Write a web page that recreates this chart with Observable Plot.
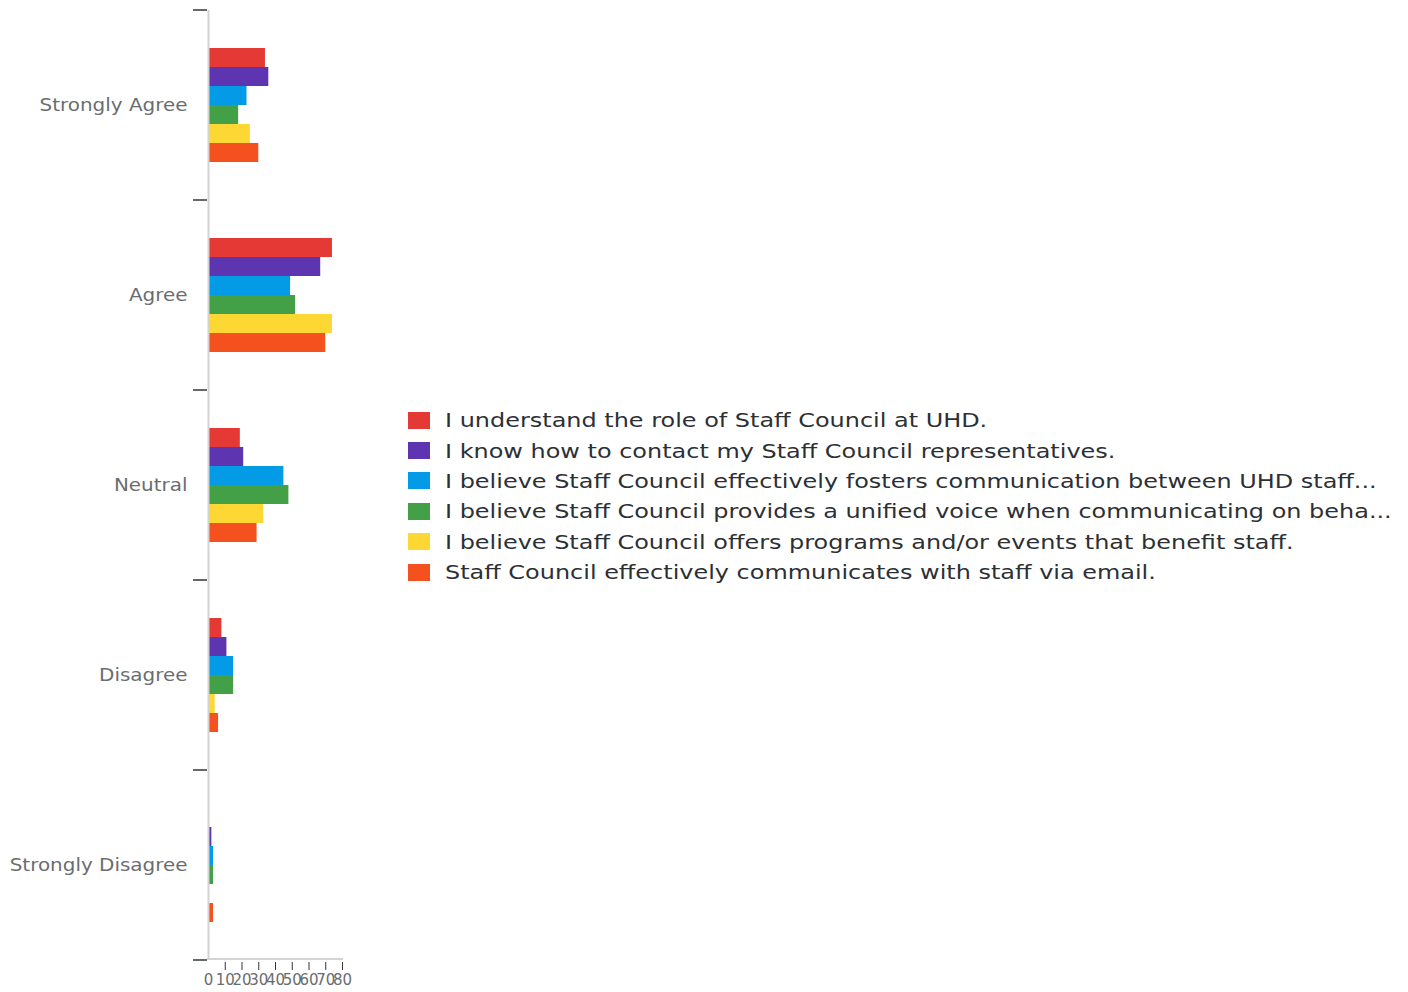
<!DOCTYPE html>
<html>
<head>
<meta charset="utf-8">
<script src="https://cdn.jsdelivr.net/npm/d3@7"></script>
<script src="https://cdn.jsdelivr.net/npm/@observablehq/plot@0.6"></script>
<style>
  html, body { margin: 0; padding: 0; background: #fff; }
  #wrap { position: relative; width: 1408px; height: 992px; }
  #chart { position: absolute; left: 0; top: 0; }
  #legend { position: absolute; left: 408px; top: 405px; font-family: "DejaVu Sans", sans-serif; font-size: 19px; color: #2c3034; }
  .row { display: flex; align-items: center; height: 30.4px; white-space: nowrap; }
  .sw { width: 22px; height: 17px; margin-right: 15px; flex: none; }
  .lab { display: inline-block; transform: scaleX(1.26); transform-origin: 0 50%; }
</style>
</head>
<body>
<div id="wrap">
  <div id="chart"></div>
  <div id="legend"></div>
</div>
<script>
const categories = ["Strongly Agree", "Agree", "Neutral", "Disagree", "Strongly Disagree"];
const statements = [
  "I understand the role of Staff Council at UHD.",
  "I know how to contact my Staff Council representatives.",
  "I believe Staff Council effectively fosters communication between UHD staff...",
  "I believe Staff Council provides a unified voice when communicating on beha...",
  "I believe Staff Council offers programs and/or events that benefit staff.",
  "Staff Council effectively communicates with staff via email."
];
const colors = ["#e53935", "#5e35b1", "#039be5", "#43a047", "#fdd835", "#f4511e"];
const understandRole = [34, 74, 19, 8, 0];
const knowContact    = [36, 67, 21, 11, 2];
const fostersComm    = [23, 49, 45, 15, 3];
const unifiedVoice   = [18, 52, 48, 15, 3];
const offersPrograms = [25, 74, 33, 4, 0];
const emailComm      = [30, 70, 29, 6, 3];
const xTicks = [0, 10, 20, 30, 40, 50, 60, 70, 80];

const seriesValues = [understandRole, knowContact, fostersComm, unifiedVoice, offersPrograms, emailComm];
const rows = [];
statements.forEach((s, i) => categories.forEach((c, j) => rows.push({statement: s, response: c, count: seriesValues[i][j]})));

const plot = Plot.plot({
  width: 360,
  height: 992,
  marginLeft: 208,
  marginRight: 18,
  marginTop: 9,
  marginBottom: 32,
  style: {fontFamily: "DejaVu Sans, sans-serif", background: "#fff"},
  x: {domain: [0, 80], axis: null},
  y: {domain: statements, paddingInner: 0, paddingOuter: 1.9, axis: null},
  fy: {domain: categories, padding: 0, axis: null},
  color: {domain: statements, range: colors},
  marks: [
    Plot.barX(rows, {x: "count", y: "statement", fy: "response", fill: "statement"}),
    Plot.ruleX([0], {stroke: "#d3d3d3", strokeWidth: 2}),
    Plot.axisFy({anchor: "left", tickSize: 0, tickPadding: 21, fontSize: 17.5, color: "#6a6d70", label: null}),
    Plot.axisX({ticks: xTicks.slice(1), tickSize: 8, tickFormat: () => "", label: null, stroke: "#32363a", dy: 2}),
    Plot.axisX({ticks: xTicks, tickSize: 0, tickPadding: 14, fontSize: 15, color: "#6a6d70", label: null})
  ]
});
document.getElementById("chart").appendChild(plot);

const svg = d3.select(plot);
// widen axis label glyphs horizontally around their anchor
function stretch(sel, s) {
  sel.each(function () {
    const t = d3.select(this);
    const tr = t.attr("transform");
    if (tr && /translate/.test(tr)) t.attr("transform", tr + ` scale(${s},1)`);
    else {
      const x = +t.attr("x") || 0;
      t.attr("transform", `translate(${x},0) scale(${s},1) translate(${-x},0)`);
    }
  });
}
stretch(svg.selectAll('g[aria-label="fy-axis tick label"] text'), 1.14);

// Band-boundary tick marks and baseline, positioned through Plot's own scales
const fy = plot.scale("fy"), xs = plot.scale("x");
const x0 = xs.apply(0), x80 = xs.apply(80);
const bounds = categories.map(c => fy.apply(c));
bounds.push(fy.apply(categories[categories.length - 1]) + fy.bandwidth);
svg.append("g").selectAll("line").data(bounds).join("line")
  .attr("x1", x0 - 15).attr("x2", x0 - 1).attr("y1", d => d).attr("y2", d => d)
  .attr("stroke", "#32363a").attr("stroke-width", 1.5);
svg.append("line").attr("x1", x0 - 1).attr("x2", x80 + 1)
  .attr("y1", bounds[bounds.length - 1] - 1).attr("y2", bounds[bounds.length - 1] - 1)
  .attr("stroke", "#d3d3d3").attr("stroke-width", 2);

const legend = d3.select("#legend");
statements.forEach((s, i) => {
  const r = legend.append("div").attr("class", "row");
  r.append("div").attr("class", "sw").style("background", colors[i]);
  r.append("span").attr("class", "lab").text(s);
});
</script>
</body>
</html>
